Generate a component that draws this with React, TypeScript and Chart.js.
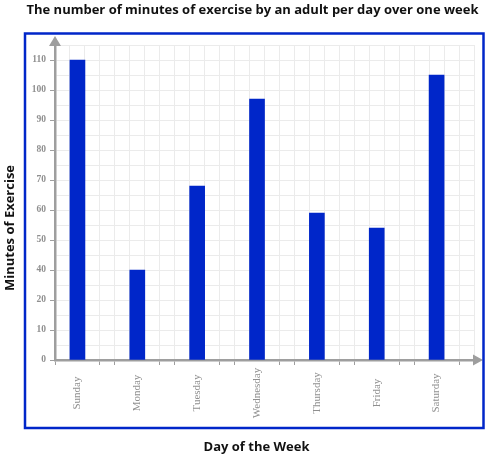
import React, { useEffect, useRef } from 'react';
import { Chart, registerables } from 'chart.js';

Chart.register(...registerables);

const days = ['Sunday', 'Monday', 'Tuesday', 'Wednesday', 'Thursday', 'Friday', 'Saturday'];
const minutes = [110, 40, 68, 97, 59, 54, 105];
const yTickLabels = [0, 10, 20, 40, 50, 60, 70, 80, 90, 100, 110];
const chartTitle = 'The number of minutes of exercise by an adult per day over one week';
const xTitle = 'Day of the Week';
const yTitle = 'Minutes of Exercise';

const BAR = '#0026C9';
const AXIS = '#9e9e9e';
const GRID = '#ebebeb';
const TICK_TEXT = '#8f8f8f';

// the axis labels are evenly spaced (30 is skipped), so map a value onto label positions
function toPos(v: number): number {
  for (let i = 1; i < yTickLabels.length; i++) {
    if (v <= yTickLabels[i]) {
      const a = yTickLabels[i - 1];
      const b = yTickLabels[i];
      return i - 1 + (v - a) / (b - a);
    }
  }
  return yTickLabels.length - 1;
}

const SLOT = 4; // grid units per day
const xCenter = (i: number) => i * SLOT + 1.5;
const X_MAX = days.length * SLOT;
const Y_MAX = yTickLabels.length - 0.5;

const decorations = {
  id: 'decorations',
  beforeDraw(chart: any) {
    const sc = chart.scales.x;
    const items = sc.getLabelItems();
    items.forEach((it: any) => {
      it.options.textAlign = 'center';
      it.options.translation = [it.options.translation[0], sc.top + 33];
    });
  },
  afterDraw(chart: any) {
    const { ctx, chartArea } = chart;
    const { left, right, top, bottom } = chartArea;
    ctx.save();
    // arrows
    ctx.fillStyle = AXIS;
    ctx.beginPath();
    ctx.moveTo(left - 6, top + 1);
    ctx.lineTo(left + 6, top + 1);
    ctx.lineTo(left, top - 9);
    ctx.closePath();
    ctx.fill();
    ctx.beginPath();
    ctx.moveTo(right - 1, bottom - 5.5);
    ctx.lineTo(right - 1, bottom + 5.5);
    ctx.lineTo(right + 9, bottom);
    ctx.closePath();
    ctx.fill();
    // frame
    ctx.strokeStyle = BAR;
    ctx.lineWidth = 2.5;
    ctx.strokeRect(25, 33.5, 458.5, 394.5);
    // titles
    ctx.fillStyle = '#111';
    ctx.textAlign = 'center';
    ctx.textBaseline = 'middle';
    ctx.font = 'bold 13px "Open Sans"';
    ctx.fillText(chartTitle, 252.5, 10);
    ctx.font = 'bold 13px "Open Sans"';
    ctx.fillText(xTitle, 256.5, 447);
    ctx.translate(10, 228);
    ctx.rotate(-Math.PI / 2);
    ctx.fillText(yTitle, 0, 0);
    ctx.restore();
  },
};

export default function App() {
  const ref = useRef<HTMLCanvasElement | null>(null);
  useEffect(() => {
    if (!ref.current) return;
    const chart = new Chart(ref.current, {
      type: 'bar',
      data: {
        datasets: [
          {
            data: minutes.map((m, i) => ({ x: xCenter(i), y: toPos(m) })),
            backgroundColor: BAR,
            borderWidth: 0,
            barThickness: 15,
          },
        ],
      },
      options: {
        responsive: false,
        animation: false,
        layout: { padding: { left: 25, right: 11, top: 45, bottom: 0 } },
        plugins: { legend: { display: false }, tooltip: { enabled: false }, title: { display: false } },
        scales: {
          x: {
            type: 'linear',
            min: 0,
            max: X_MAX,
            offset: false,
            afterBuildTicks: (scale: any) => {
              const t: any[] = [];
              for (let v = 0; v <= X_MAX; v++) t.push({ value: v });
              days.forEach((_, i) => t.push({ value: xCenter(i) }));
              t.sort((a, b) => a.value - b.value);
              scale.ticks = t;
            },
            afterFit: (scale: any) => {
              scale.height = 95;
              scale.paddingLeft = 0;
              scale.paddingRight = 0;
            },
            grid: {
              offset: false,
              color: (c: any) => (Number.isInteger(c.tick?.value) ? GRID : 'rgba(0,0,0,0)'),
              tickColor: (c: any) => {
                const v = c.tick?.value;
                if (!Number.isInteger(v) || v >= X_MAX) return 'rgba(0,0,0,0)';
                return v % SLOT === 0 || v % SLOT === 3 ? AXIS : 'rgba(0,0,0,0)';
              },
              tickLength: 5,
              tickWidth: 1,
              lineWidth: 1,
            },
            border: { display: true, color: AXIS, width: 2.5 },
            ticks: {
              autoSkip: false,
              minRotation: 90,
              maxRotation: 90,
              color: TICK_TEXT,
              font: { family: 'Liberation Serif', size: 11 },
              callback: (value: any) => {
                const i = days.findIndex((_, k) => xCenter(k) === Number(value));
                return i >= 0 ? days[i] : '';
              },
            },
          },
          y: {
            type: 'linear',
            min: 0,
            max: Y_MAX,
            afterBuildTicks: (scale: any) => {
              const t: any[] = [];
              for (let v = 0; v <= Y_MAX + 1e-9; v += 0.5) t.push({ value: v });
              scale.ticks = t;
            },
            afterFit: (scale: any) => {
              scale.width = 30;
              scale.paddingTop = 0;
              scale.paddingBottom = 0;
            },
            grid: {
              color: GRID,
              tickColor: (c: any) => {
                const v = c.tick?.value;
                return Number.isInteger(v) && v < yTickLabels.length ? AXIS : 'rgba(0,0,0,0)';
              },
              tickLength: 5,
              tickWidth: 1,
              lineWidth: 1,
            },
            border: { display: true, color: AXIS, width: 2.5 },
            ticks: {
              autoSkip: false,
              padding: 4,
              color: TICK_TEXT,
              font: { family: 'Liberation Serif', size: 9.5, weight: 'bold' },
              callback: (value: any) => {
                const v = Number(value);
                return Number.isInteger(v) && v < yTickLabels.length ? String(yTickLabels[v]) : '';
              },
            },
          },
        },
      },
      plugins: [decorations],
    } as any);
    return () => chart.destroy();
  }, []);
  return (
    <div style={{ position: 'absolute', left: 0, top: 0, width: 485, height: 455 }}>
      <canvas ref={ref} width={485} height={455} />
    </div>
  );
}
